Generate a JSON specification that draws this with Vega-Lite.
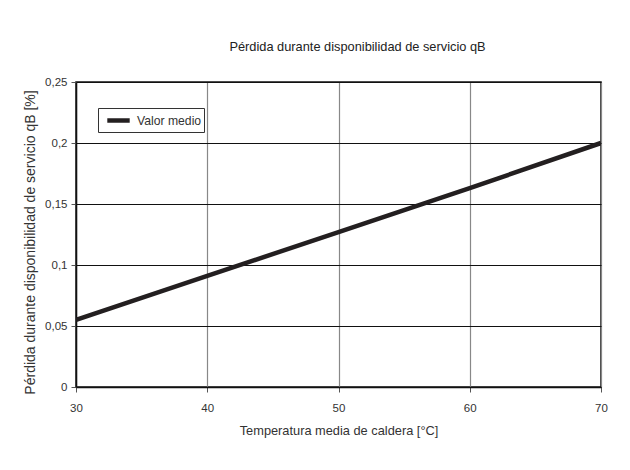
{
  "$schema": "https://vega.github.io/schema/vega-lite/v6.json",
  "width": 525,
  "height": 305,
  "autosize": {"type": "none"},
  "padding": {"left": 76, "top": 82, "right": 29, "bottom": 83},
  "background": "white",
  "title": {
    "text": "Pérdida durante disponibilidad de servicio qB",
    "fontSize": 12.8,
    "fontWeight": "normal",
    "font": "Liberation Sans",
    "color": "#222222",
    "offset": 22,
    "dx": 19,
    "anchor": "middle"
  },
  "config": {
    "font": "Liberation Sans",
    "view": {"stroke": "#111111", "strokeWidth": 1.5},
    "axis": {
      "labelFont": "Liberation Sans",
      "titleFont": "Liberation Sans",
      "labelFontSize": 11.5,
      "titleFontSize": 12.8,
      "labelColor": "#333333",
      "titleColor": "#333333",
      "titleFontWeight": "normal",
      "tickColor": "#555555",
      "domainColor": "#111111",
      "domainWidth": 1.5,
      "labelFlush": false
    }
  },
  "data": {
    "values": [
      {"temp": 30, "q": 0.055, "serie": "Valor medio"},
      {"temp": 40, "q": 0.091, "serie": "Valor medio"},
      {"temp": 50, "q": 0.127, "serie": "Valor medio"},
      {"temp": 60, "q": 0.163, "serie": "Valor medio"},
      {"temp": 70, "q": 0.2, "serie": "Valor medio"}
    ]
  },
  "mark": {"type": "line", "strokeWidth": 4.5, "strokeCap": "butt", "clip": true},
  "encoding": {
    "x": {
      "field": "temp",
      "type": "quantitative",
      "scale": {"domain": [30, 70], "nice": false, "zero": false},
      "axis": {
        "title": "Temperatura media de caldera [°C]",
        "values": [30, 40, 50, 60, 70],
        "gridColor": "#888888",
        "gridWidth": 1.2,
        "gridOpacity": 1,
        "tickSize": 5,
        "labelPadding": 10,
        "titlePadding": 11
      }
    },
    "y": {
      "field": "q",
      "type": "quantitative",
      "scale": {"domain": [0, 0.25], "nice": false},
      "axis": {
        "title": "Pérdida durante disponibilidad de servicio qB [%]",
        "titleFontSize": 14,
        "titleColor": "#333333",
        "titleY": 160,
        "values": [0, 0.05, 0.1, 0.15, 0.2, 0.25],
        "labelExpr": "replace(format(datum.value, '.2~f'), '.', ',')",
        "gridColor": "#111111",
        "gridWidth": 1.2,
        "gridOpacity": 1,
        "tickSize": 5,
        "labelPadding": 4,
        "titlePadding": 7
      }
    },
    "color": {
      "field": "serie",
      "type": "nominal",
      "scale": {"range": ["#231f20"]},
      "legend": {
        "title": null,
        "orient": "none",
        "legendX": 22,
        "legendY": 26,
        "padding": 2,
        "strokeColor": "#333333",
        "fillColor": "white",
        "symbolType": "M-1.4,0H1.4",
        "symbolStrokeWidth": 4.5,
        "symbolSize": 256,
        "symbolOffset": 8,
        "labelOffset": 8,
        "labelFontSize": 12.2,
        "labelColor": "#333333",
        "labelFont": "Liberation Sans"
      }
    }
  }
}
